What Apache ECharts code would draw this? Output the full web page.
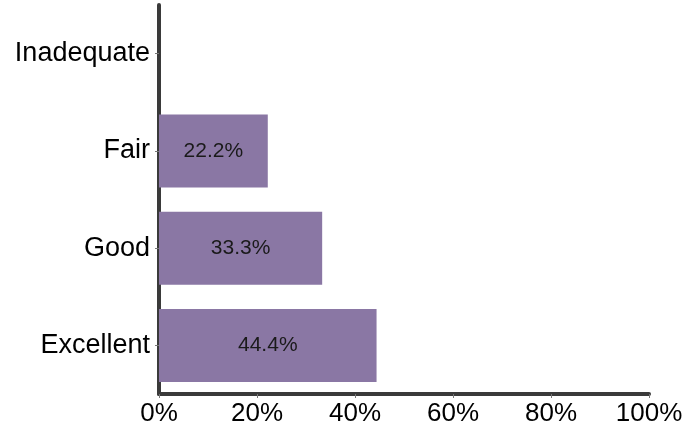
<!DOCTYPE html>
<html>
<head>
<meta charset="utf-8">
<script src="https://cdn.jsdelivr.net/npm/echarts@6/dist/echarts.min.js"></script>
<style>html,body{margin:0;padding:0;background:#fff}#c{width:688px;height:433px}</style>
</head>
<body>
<div id="c"></div>
<script>
var categories = ['Excellent', 'Good', 'Fair', 'Inadequate'];
var values = [44.4, 33.3, 22.2, 0];
var xTicks = [0, 20, 40, 60, 80, 100];

var chart = echarts.init(document.getElementById('c'), null, {renderer: 'canvas'});
chart.setOption({
  animation: false,
  grid: {left: 159, right: 39, top: 5, bottom: 39, containLabel: false},
  xAxis: {
    type: 'value', min: 0, max: 100, interval: 20,
    axisLine: {show: true, lineStyle: {color: '#3a3a3a', width: 4}},
    axisTick: {show: true, length: 4, lineStyle: {color: '#777', width: 1}},
    splitLine: {show: false},
    axisLabel: {
      fontFamily: 'Liberation Sans, Arial, sans-serif', fontSize: 26, color: '#000', margin: 7,
      formatter: function (v) { return v + '%'; }
    }
  },
  yAxis: {
    type: 'category', data: categories,
    axisLine: {show: true, lineStyle: {color: '#3a3a3a', width: 4}},
    axisTick: {show: true, alignWithLabel: true, length: 4, lineStyle: {color: '#777', width: 1}},
    axisLabel: {fontFamily: 'Liberation Sans, Arial, sans-serif', fontSize: 27, color: '#000', margin: 9, padding: [6, 0, 0, 0]}
  },
  series: [{
    type: 'bar', data: values, barWidth: 73,
    itemStyle: {color: '#8a77a4'},
    label: {
      show: true, position: 'inside', color: '#1a1a1a',
      fontFamily: 'Liberation Sans, Arial, sans-serif', fontSize: 21, padding: [3, 0, 0, 0],
      formatter: function (p) { return p.value > 0 ? p.value.toFixed(1) + '%' : ''; }
    }
  }]
});
</script>
</body>
</html>
